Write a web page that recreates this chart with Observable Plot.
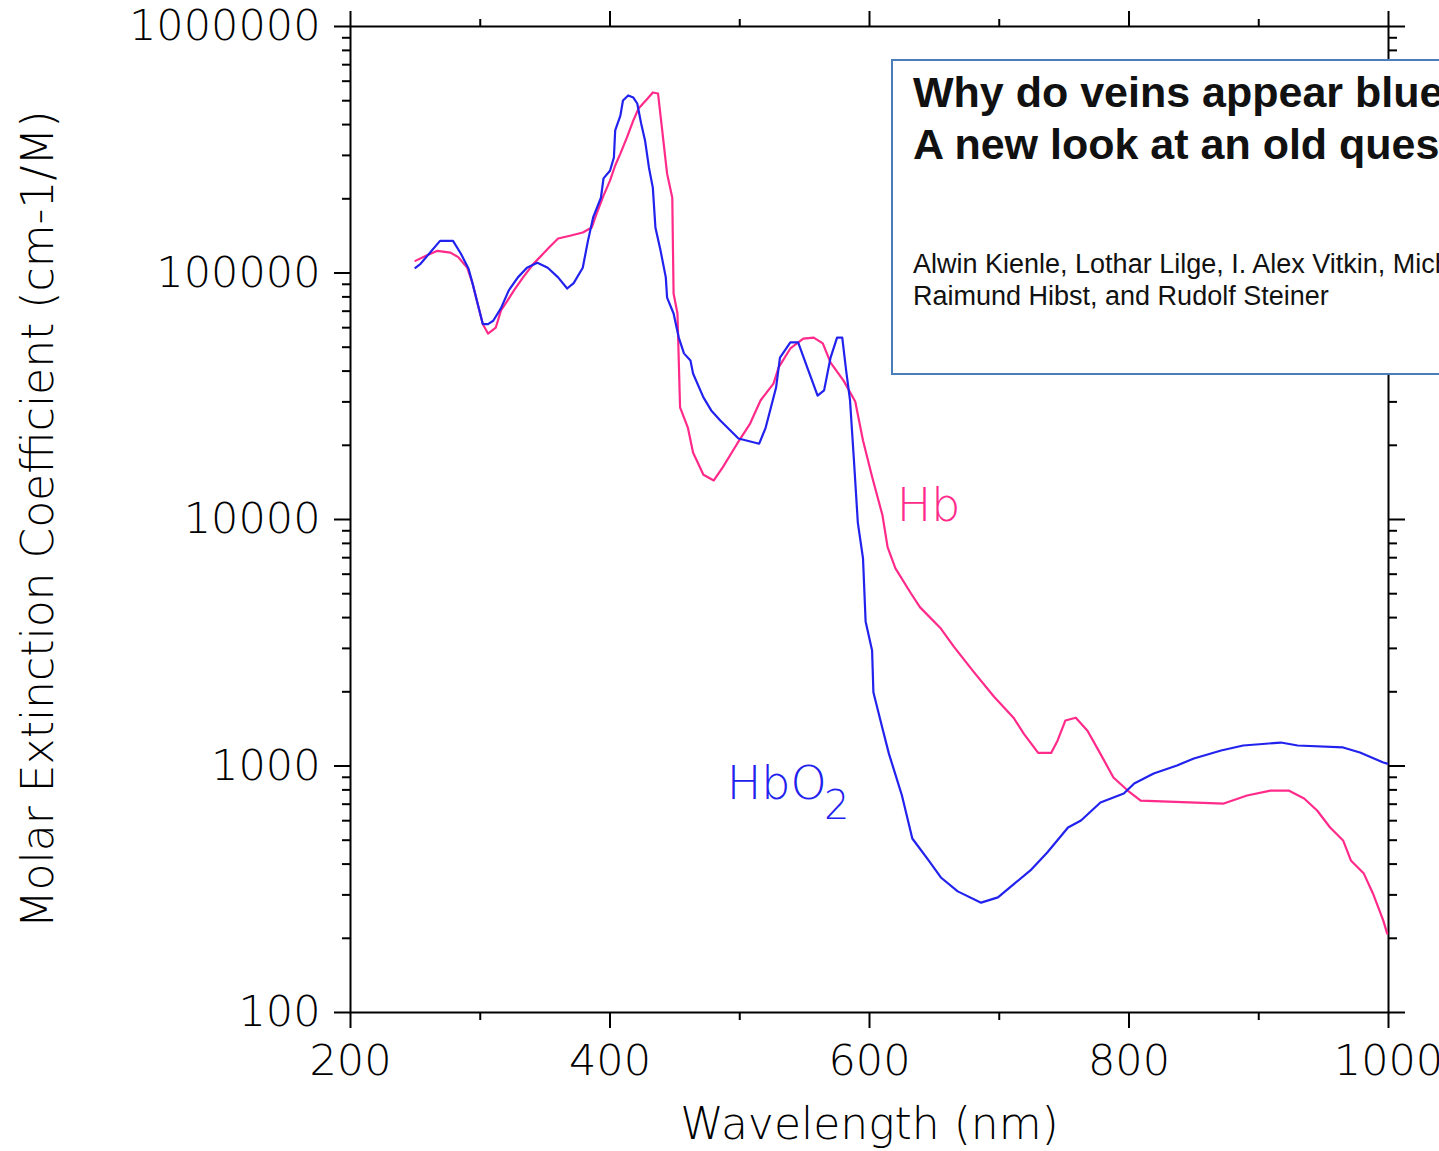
<!DOCTYPE html>
<html>
<head>
<meta charset="utf-8">
<script src="https://cdn.jsdelivr.net/npm/d3@7"></script>
<script src="https://cdn.jsdelivr.net/npm/@observablehq/plot@0.6"></script>
<style>
  html, body { margin: 0; padding: 0; background: #fff; overflow: hidden; }
  #wrap { position: relative; width: 1439px; height: 1151px; overflow: hidden; }
  #note { position: absolute; left: 891px; top: 59px; width: 700px; height: 312px;
          border: 2px solid #4a7ebb; background: #fff; }
  #note .t { position: absolute; left: 20px; white-space: nowrap;
             font-family: "Liberation Sans", Arial, sans-serif; color: #111; }
  #title { top: 5px; font-size: 43px; line-height: 52px; font-weight: bold; }
  #authors { top: 187px; font-size: 27px; line-height: 32px; }
</style>
</head>
<body>
<div id="wrap">
  <div id="chart"></div>
  <div id="note">
    <div class="t" id="title">Why do veins appear blue?<br>A new look at an old question</div>
    <div class="t" id="authors">Alwin Kienle, Lothar Lilge, I. Alex Vitkin, Michael S. Patterson, Brian C. Wilson,<br>Raimund Hibst, and Rudolf Steiner</div>
  </div>
</div>
<script>
// ---- data ----
const hbo2Wavelength = [250,254,269,279,285,291,294,298,302,306,310,316,322,329,336,344,352,360,367,372,379,383,387,393,395,400,403,404,408,410,414,418,421,424,427,430,433,435,439,443,444,449,453,457,462,464,472,478,485,499,515,520,528,531,539,545,552,560,565,570,575,579,582,585,588,591,595,597,602,603,610,615,620,625,633,645,655,668,686,699,711,724,737,753,763,778,796,804,819,837,850,871,888,917,930,965,978,996,999];
const hbo2Value = [105000,109000,135000,135000,120000,104000,91000,75000,62000,62000,64000,72000,85000,96000,105000,110000,105000,96000,86500,91000,105000,135000,168000,202000,242000,260000,294000,379000,435000,501000,525000,515000,487000,404000,345000,268000,222000,153000,123000,96000,79500,68500,54700,47200,44200,39100,31300,27700,25200,21300,20300,23600,34300,45400,52300,52300,41400,31800,33400,45400,54700,54700,40200,30400,17400,9720,6950,3860,2940,1990,1420,1120,923,759,508,418,353,310,279,293,331,377,446,563,601,711,773,849,932,1005,1073,1156,1211,1245,1211,1189,1134,1033,1023];

const hbWavelength = [250,259,267,277,283,290,294,298,302,306,312,316,321,326,333,341,346,353,360,370,379,386,390,395,400,404,408,413,418,422,429,433,437,440,444,448,449,452,454,460,464,472,480,487,498,508,516,526,530,539,549,557,564,570,580,589,595,602,610,614,620,632,639,655,665,680,696,711,719,730,740,745,751,759,768,778,788,799,809,873,891,909,923,935,945,955,965,971,981,988,996,999];
const hbValue = [112000,118000,123000,121000,116000,105000,91000,75000,62000,56800,60100,70500,77300,85000,96000,109000,116000,127000,138000,142000,146000,153000,176000,206000,237000,273000,305000,354000,416000,465000,510000,540000,535000,389000,253000,202000,82600,68500,28500,23600,18700,15200,14400,16300,20300,24500,30400,35600,41400,49400,54200,54700,51800,43300,36600,30100,20900,14900,10400,7700,6330,5010,4400,3610,3050,2420,1910,1570,1350,1130,1130,1270,1530,1570,1390,1120,898,795,724,704,759,795,795,738,660,563,499,414,366,304,236,209];

const xMajorTicks = [200, 400, 600, 800, 1000];
const xMinorTicks = [300, 500, 700, 900];
const yMajorTicks = [100, 1000, 10000, 100000, 1000000];
const yMinorTicks = [2,3,4,5,6,7,8,9].flatMap(m => [100, 1000, 10000, 100000].map(p => m * p));

const xTitle = "Wavelength (nm)";
const yTitle = "Molar Extinction Coefficient (cm-1/M)";

// series labels: text, wavelength, value
const hbLabel = {text: "Hb", x: 621, y: 11300};
const hbo2Label = {text: "HbO", x: 490, y: 840};
const hbo2Sub = {text: "2", x: 565, y: 690};

const hbColor = "#ff2a8a";
const hbo2Color = "#2222ee";

// ---- tables ----
const hbData = hbWavelength.map((w, i) => ({w, v: hbValue[i]}));
const hbo2Data = hbo2Wavelength.map((w, i) => ({w, v: hbo2Value[i]}));

const font = '"DejaVu Sans", sans-serif';

const chart = Plot.plot({
  width: 1439,
  height: 1151,
  marginLeft: 350,
  marginRight: 51,
  marginTop: 26,
  marginBottom: 139,
  style: {fontFamily: font, fontSize: "43px", fontWeight: 200, color: "#000", background: "#fff", overflow: "visible"},
  x: {domain: [200, 1000]},
  y: {type: "log", domain: [100, 1000000]},
  marks: [
    Plot.frame({stroke: "#000", strokeWidth: 2}),
    Plot.axisX({anchor: "bottom", ticks: xMajorTicks, tickSize: 16, tickPadding: 16, strokeWidth: 2, label: null, tickFormat: d => String(d)}),
    Plot.axisX({anchor: "bottom", ticks: xMinorTicks, tickSize: 8, strokeWidth: 2, label: null, tickFormat: () => ""}),
    Plot.axisX({anchor: "top", ticks: xMajorTicks, tickSize: 16, strokeWidth: 2, label: null, tickFormat: () => ""}),
    Plot.axisX({anchor: "top", ticks: xMinorTicks, tickSize: 8, strokeWidth: 2, label: null, tickFormat: () => ""}),
    Plot.axisY({anchor: "left", ticks: yMajorTicks, tickSize: 16, tickPadding: 14, strokeWidth: 2, label: null, tickFormat: d => String(d)}),
    Plot.axisY({anchor: "left", ticks: yMinorTicks, tickSize: 8, strokeWidth: 2, label: null, tickFormat: () => ""}),
    Plot.axisY({anchor: "right", ticks: yMajorTicks, tickSize: 16, strokeWidth: 2, label: null, tickFormat: () => ""}),
    Plot.axisY({anchor: "right", ticks: yMinorTicks, tickSize: 8, strokeWidth: 2, label: null, tickFormat: () => ""}),
    Plot.line(hbData, {x: "w", y: "v", stroke: hbColor, strokeWidth: 2.2}),
    Plot.line(hbo2Data, {x: "w", y: "v", stroke: hbo2Color, strokeWidth: 2.2}),
    Plot.text([hbLabel], {x: "x", y: "y", text: "text", fill: hbColor, fontSize: 46, textAnchor: "start"}),
    Plot.text([hbo2Label], {x: "x", y: "y", text: "text", fill: hbo2Color, fontSize: 46, textAnchor: "start"}),
    Plot.text([hbo2Sub], {x: "x", y: "y", text: "text", fill: hbo2Color, fontSize: 40, textAnchor: "start"}),
    Plot.text([xTitle], {frameAnchor: "bottom", dy: 126, fontSize: 44, textAnchor: "middle"}),
    Plot.text([yTitle], {frameAnchor: "left", dx: -312, rotate: -90, fontSize: 44, textAnchor: "middle"})
  ]
});

document.getElementById("chart").appendChild(chart);
</script>
</body>
</html>
